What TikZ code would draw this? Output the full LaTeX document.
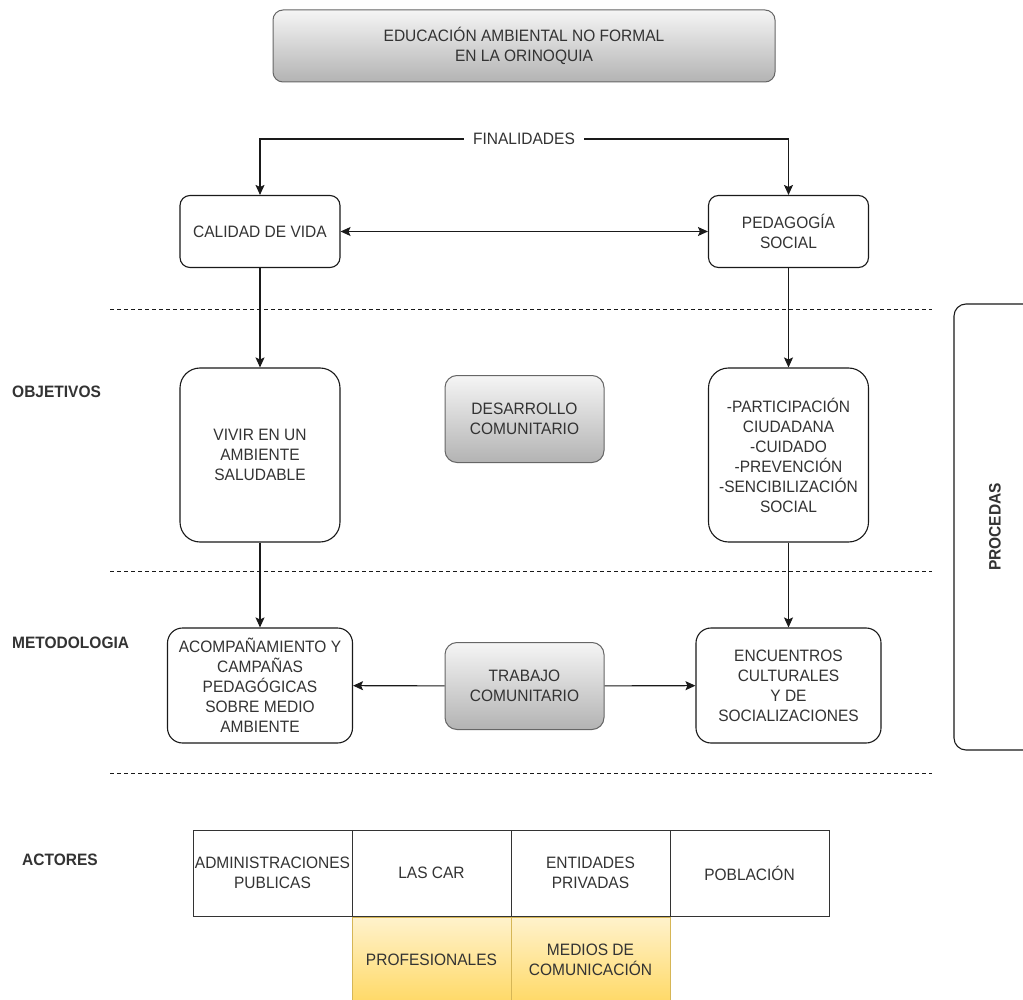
\documentclass[tikz,border=0pt]{standalone}
\usepackage{fontspec}
\setmainfont[FakeStretch=0.94]{Liberation Sans}
\usetikzlibrary{positioning,arrows.meta}
\definecolor{txtgray}{HTML}{333333}
\definecolor{linegray}{HTML}{1A1A1A}
\definecolor{cellline}{HTML}{333333}
\definecolor{boxgray}{HTML}{666666}
\definecolor{graytop}{HTML}{F5F5F5}
\definecolor{graybot}{HTML}{B3B3B3}
\definecolor{yeltop}{HTML}{FFF2CC}
\definecolor{yelbot}{HTML}{FFD966}
\definecolor{yelline}{HTML}{D6B656}

\begin{document}
\begin{tikzpicture}[x=1pt,y=-1pt,>={Stealth[length=10pt,width=9pt,inset=2pt]},font=\fontsize{16.5}{20}\selectfont,text=txtgray]
        \tikzstyle{box}=[rectangle, rounded corners=10pt, draw=linegray, line width=1.1pt, align=center, minimum width=160pt, minimum height=72pt, inner sep=2pt]
        \tikzstyle{tallbox}=[box, rounded corners=20pt, minimum height=174pt]
        \tikzstyle{methbox}=[box, rounded corners=15pt, minimum width=185pt, minimum height=115pt]
        \tikzstyle{hub}=[rectangle, rounded corners=12pt, draw=boxgray, line width=1pt, top color=graytop, bottom color=graybot, align=center, minimum width=159pt, minimum height=87pt]
        \tikzstyle{cell}=[rectangle, draw=cellline, line width=1pt, align=center, minimum width=159pt, minimum height=86pt, inner sep=0pt]
        \tikzstyle{goldcell}=[cell, draw=yelline, top color=yeltop, bottom color=yelbot]
        \tikzstyle{rowlabel}=[anchor=west, inner sep=0pt, font=\fontsize{16.5}{20}\selectfont\bfseries]
        \tikzstyle{link}=[->, draw=linegray, line width=1.1pt]
        \path[use as bounding box, clip] (0,0) rectangle (1023,1000);
        \fill[white] (0,0) rectangle (1023,1000);
        \foreach \y in {310,571,773}
            \draw[dashed, dash pattern=on 4pt off 3pt, line width=1pt, draw=linegray] (110,\y) -- (932,\y);
        \node[hub, minimum width=502pt, minimum height=72pt, rounded corners=10pt] (title) at (524,46) {EDUCACIÓN AMBIENTAL NO FORMAL\\EN LA ORINOQUIA};
        \node[inner xsep=9pt] (fin) at (524,139) {FINALIDADES};
        \node[box] (calidad) at (260,231.5) {CALIDAD DE VIDA};
        \node[box] (pedagogia) at (788.5,231.5) {PEDAGOGÍA\\SOCIAL};
        \node[rowlabel] (objetivos) at (12,392) {OBJETIVOS};
        \node[tallbox] (vivir) at (260,455) {VIVIR EN UN\\AMBIENTE\\SALUDABLE};
        \node[hub] (desarrollo) at (524.5,419) {DESARROLLO\\COMUNITARIO};
        \node[tallbox] (partic) at (788.5,455) {-PARTICIPACIÓN\\CIUDADANA\\-CUIDADO\\-PREVENCIÓN\\-SENCIBILIZACIÓN\\SOCIAL};
        \node[rowlabel] (metodologia) at (12,643) {METODOLOGIA};
        \node[methbox] (acomp) at (260,685.5) {ACOMPAÑAMIENTO Y\\CAMPAÑAS\\PEDAGÓGICAS\\SOBRE MEDIO\\AMBIENTE};
        \node[hub] (trabajo) at (524.5,686) {TRABAJO\\COMUNITARIO};
        \node[methbox] (encuentros) at (788.5,685.5) {ENCUENTROS\\CULTURALES\\Y DE\\SOCIALIZACIONES};
        \node[rowlabel] (actores) at (22,860) {ACTORES};
        \node[cell] (admin) at (272.5,873) {ADMINISTRACIONES\\PUBLICAS};
        \node[cell, right=-1pt of admin] (lascar) {LAS CAR};
        \node[cell, right=-1pt of lascar] (entidades) {ENTIDADES\\PRIVADAS};
        \node[cell, right=-1pt of entidades] (poblacion) {POBLACIÓN};
        \node[goldcell, below=0pt of lascar] (profes) {PROFESIONALES};
        \node[goldcell, below=0pt of entidades] (medios) {MEDIOS DE\\COMUNICACIÓN};
        \node[draw=linegray, line width=1.1pt, rounded corners=12pt, rotate=90, minimum width=446pt, minimum height=82pt, font=\fontsize{16.5}{20}\selectfont\bfseries] (procedas) at (995,527) {PROCEDAS};
        \draw[link] (fin.west) -| (calidad.north);
        \draw[link] (fin.east) -| (pedagogia.north);
        \draw[link,<->] (calidad) -- (pedagogia);
        \draw[link] (calidad) -- (vivir);
        \draw[link] (pedagogia) -- (partic);
        \draw[link] (vivir) -- (acomp);
        \draw[link] (partic) -- (encuentros);
        \draw[link] (trabajo) -- (acomp);
        \draw[link] (trabajo) -- (encuentros);
    \end{tikzpicture}
\end{document}
